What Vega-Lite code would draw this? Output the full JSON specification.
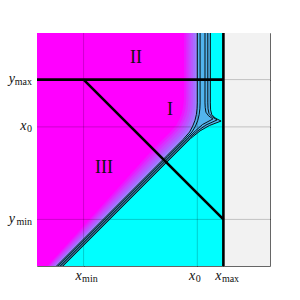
{
  "$schema": "https://vega.github.io/schema/vega-lite/v6.json",
  "width": 233,
  "height": 233,
  "autosize": "none",
  "padding": {"left": 37, "top": 33, "right": 30, "bottom": 34},
  "background": "white",
  "config": {
    "view": {"stroke": "#666", "strokeWidth": 1},
    "axis": {
      "tickColor": "#222",
      "tickSize": 6,
      "offset": -6,
      "grid": false,
      "domain": false,
      "labels": false,
      "title": null,
      "zindex": 1
    }
  },
  "resolve": {"scale": {"color": "independent"}, "axis": {"x": "independent", "y": "independent"}},
  "datasets": {
    "rg": [
      {"r": "cyan", "x": 0, "x2": 0.8, "y": 0, "y2": 1},
      {"r": "grey", "x": 0.8, "x2": 1, "y": 0, "y2": 1}
    ],
    "gd": [
      {"x": 0.2, "y": 0, "x2": 0.2, "y2": 1},
      {"x": 0.688, "y": 0, "x2": 0.688, "y2": 1},
      {"x": 0.8, "y": 0, "x2": 0.8, "y2": 1},
      {"x": 0, "y": 0.2, "x2": 1, "y2": 0.2},
      {"x": 0, "y": 0.597, "x2": 1, "y2": 0.597},
      {"x": 0, "y": 0.8, "x2": 1, "y2": 0.8}
    ],
    "lv": [
      {"k": "L0", "x": 0.112, "y": 0}, {"k": "L0", "x": 0.55, "y": 0.438}, {"k": "L0", "x": 0.66, "y": 0.548}, {"k": "L0", "x": 0.70, "y": 0.58}, {"k": "L0", "x": 0.74, "y": 0.603}, {"k": "L0", "x": 0.79, "y": 0.622}, {"k": "L0", "x": 0.765, "y": 0.635}, {"k": "L0", "x": 0.75, "y": 0.65}, {"k": "L0", "x": 0.745, "y": 0.67}, {"k": "L0", "x": 0.744, "y": 0.7}, {"k": "L0", "x": 0.744, "y": 1},
      {"k": "L1", "x": 0.084, "y": 0}, {"k": "L1", "x": 0.56, "y": 0.476}, {"k": "L1", "x": 0.627, "y": 0.543}, {"k": "L1", "x": 0.655, "y": 0.575}, {"k": "L1", "x": 0.668, "y": 0.6}, {"k": "L1", "x": 0.678, "y": 0.625}, {"k": "L1", "x": 0.684, "y": 0.65}, {"k": "L1", "x": 0.687, "y": 0.675}, {"k": "L1", "x": 0.688, "y": 0.7}, {"k": "L1", "x": 0.688, "y": 1},
      {"k": "L2", "x": 0.0775, "y": 0}, {"k": "L2", "x": 0.5505, "y": 0.481}, {"k": "L2", "x": 0.6175, "y": 0.548}, {"k": "L2", "x": 0.6455, "y": 0.58}, {"k": "L2", "x": 0.6585, "y": 0.605}, {"k": "L2", "x": 0.6685, "y": 0.63}, {"k": "L2", "x": 0.6745, "y": 0.655}, {"k": "L2", "x": 0.6775, "y": 0.68}, {"k": "L2", "x": 0.6785, "y": 0.705}, {"k": "L2", "x": 0.6785, "y": 1},
      {"k": "L3", "x": 0.071, "y": 0}, {"k": "L3", "x": 0.541, "y": 0.486}, {"k": "L3", "x": 0.608, "y": 0.553}, {"k": "L3", "x": 0.636, "y": 0.585}, {"k": "L3", "x": 0.649, "y": 0.61}, {"k": "L3", "x": 0.659, "y": 0.635}, {"k": "L3", "x": 0.665, "y": 0.66}, {"k": "L3", "x": 0.668, "y": 0.685}, {"k": "L3", "x": 0.669, "y": 0.71}, {"k": "L3", "x": 0.669, "y": 1},
      {"k": "L4", "x": 0.0645, "y": 0}, {"k": "L4", "x": 0.5315, "y": 0.491}, {"k": "L4", "x": 0.5985, "y": 0.558}, {"k": "L4", "x": 0.6265, "y": 0.59}, {"k": "L4", "x": 0.6395, "y": 0.615}, {"k": "L4", "x": 0.6495, "y": 0.64}, {"k": "L4", "x": 0.6555, "y": 0.665}, {"k": "L4", "x": 0.6585, "y": 0.69}, {"k": "L4", "x": 0.6595, "y": 0.715}, {"k": "L4", "x": 0.6595, "y": 1},
      {"k": "L5", "x": 0.058, "y": 0}, {"k": "L5", "x": 0.522, "y": 0.496}, {"k": "L5", "x": 0.589, "y": 0.563}, {"k": "L5", "x": 0.617, "y": 0.595}, {"k": "L5", "x": 0.63, "y": 0.62}, {"k": "L5", "x": 0.64, "y": 0.645}, {"k": "L5", "x": 0.646, "y": 0.67}, {"k": "L5", "x": 0.649, "y": 0.695}, {"k": "L5", "x": 0.65, "y": 0.72}, {"k": "L5", "x": 0.65, "y": 1},
      {"k": "L6", "x": 0.0515, "y": 0}, {"k": "L6", "x": 0.5125, "y": 0.501}, {"k": "L6", "x": 0.5795, "y": 0.568}, {"k": "L6", "x": 0.6075, "y": 0.6}, {"k": "L6", "x": 0.6205, "y": 0.625}, {"k": "L6", "x": 0.6305, "y": 0.65}, {"k": "L6", "x": 0.6365, "y": 0.675}, {"k": "L6", "x": 0.6395, "y": 0.7}, {"k": "L6", "x": 0.6405, "y": 0.725}, {"k": "L6", "x": 0.6405, "y": 1},
      {"k": "L7", "x": 0.045, "y": 0}, {"k": "L7", "x": 0.503, "y": 0.506}, {"k": "L7", "x": 0.57, "y": 0.573}, {"k": "L7", "x": 0.598, "y": 0.605}, {"k": "L7", "x": 0.611, "y": 0.63}, {"k": "L7", "x": 0.621, "y": 0.655}, {"k": "L7", "x": 0.627, "y": 0.68}, {"k": "L7", "x": 0.63, "y": 0.705}, {"k": "L7", "x": 0.631, "y": 0.73}, {"k": "L7", "x": 0.631, "y": 1}
    ],
    "ct": [
      {"c": 1, "i": 0, "x": 0.084, "y": 0}, {"c": 1, "i": 1, "x": 0.56, "y": 0.476}, {"c": 1, "i": 2, "x": 0.627, "y": 0.543}, {"c": 1, "i": 3, "x": 0.655, "y": 0.575}, {"c": 1, "i": 4, "x": 0.668, "y": 0.6}, {"c": 1, "i": 5, "x": 0.678, "y": 0.625}, {"c": 1, "i": 6, "x": 0.684, "y": 0.65}, {"c": 1, "i": 7, "x": 0.687, "y": 0.675}, {"c": 1, "i": 8, "x": 0.688, "y": 0.7}, {"c": 1, "i": 9, "x": 0.688, "y": 1},
      {"c": 2, "i": 0, "x": 0.091, "y": 0}, {"c": 2, "i": 1, "x": 0.56, "y": 0.469}, {"c": 2, "i": 2, "x": 0.635, "y": 0.544}, {"c": 2, "i": 3, "x": 0.665, "y": 0.575}, {"c": 2, "i": 4, "x": 0.68, "y": 0.6}, {"c": 2, "i": 5, "x": 0.69, "y": 0.625}, {"c": 2, "i": 6, "x": 0.696, "y": 0.65}, {"c": 2, "i": 7, "x": 0.699, "y": 0.675}, {"c": 2, "i": 8, "x": 0.70, "y": 0.7}, {"c": 2, "i": 9, "x": 0.70, "y": 1},
      {"c": 3, "i": 0, "x": 0.098, "y": 0}, {"c": 3, "i": 1, "x": 0.55, "y": 0.452}, {"c": 3, "i": 2, "x": 0.648, "y": 0.55}, {"c": 3, "i": 3, "x": 0.68, "y": 0.58}, {"c": 3, "i": 4, "x": 0.71, "y": 0.607}, {"c": 3, "i": 5, "x": 0.755, "y": 0.631}, {"c": 3, "i": 6, "x": 0.736, "y": 0.645}, {"c": 3, "i": 7, "x": 0.725, "y": 0.66}, {"c": 3, "i": 8, "x": 0.722, "y": 0.68}, {"c": 3, "i": 9, "x": 0.721, "y": 0.7}, {"c": 3, "i": 10, "x": 0.721, "y": 1},
      {"c": 4, "i": 0, "x": 0.105, "y": 0}, {"c": 4, "i": 1, "x": 0.55, "y": 0.445}, {"c": 4, "i": 2, "x": 0.655, "y": 0.55}, {"c": 4, "i": 3, "x": 0.69, "y": 0.58}, {"c": 4, "i": 4, "x": 0.725, "y": 0.605}, {"c": 4, "i": 5, "x": 0.773, "y": 0.627}, {"c": 4, "i": 6, "x": 0.752, "y": 0.64}, {"c": 4, "i": 7, "x": 0.738, "y": 0.655}, {"c": 4, "i": 8, "x": 0.734, "y": 0.675}, {"c": 4, "i": 9, "x": 0.733, "y": 0.7}, {"c": 4, "i": 10, "x": 0.733, "y": 1},
      {"c": 5, "i": 0, "x": 0.112, "y": 0}, {"c": 5, "i": 1, "x": 0.55, "y": 0.438}, {"c": 5, "i": 2, "x": 0.66, "y": 0.548}, {"c": 5, "i": 3, "x": 0.70, "y": 0.58}, {"c": 5, "i": 4, "x": 0.74, "y": 0.603}, {"c": 5, "i": 5, "x": 0.79, "y": 0.622}, {"c": 5, "i": 6, "x": 0.765, "y": 0.635}, {"c": 5, "i": 7, "x": 0.75, "y": 0.65}, {"c": 5, "i": 8, "x": 0.745, "y": 0.67}, {"c": 5, "i": 9, "x": 0.744, "y": 0.7}, {"c": 5, "i": 10, "x": 0.744, "y": 1}
    ],
    "sg": [
      {"x": 0, "y": 0.8, "x2": 0.8, "y2": 0.8},
      {"x": 0.2, "y": 0.8, "x2": 0.8, "y2": 0.2},
      {"x": 0.8, "y": 0, "x2": 0.8, "y2": 1}
    ],
    "lb": [
      {"t": "II", "x": 0.425, "y": 0.893},
      {"t": "I", "x": 0.571, "y": 0.67},
      {"t": "III", "x": 0.288, "y": 0.42}
    ],
    "tk": [
      {"ax": "y", "w": "long", "x": 0, "y": 0.8, "m": "y", "s": "max"},
      {"ax": "y", "w": "short", "x": 0, "y": 0.597, "m": "x", "s": "0"},
      {"ax": "y", "w": "long", "x": 0, "y": 0.2, "m": "y", "s": "min"},
      {"ax": "x", "w": "long", "x": 0.2, "y": 0, "m": "x", "s": "min"},
      {"ax": "x", "w": "short", "x": 0.688, "y": 0, "m": "x", "s": "0"},
      {"ax": "x", "w": "long", "x": 0.8, "y": 0, "m": "x", "s": "max"}
    ]
  },
  "layer": [
    {
      "data": {"name": "rg"},
      "mark": {"type": "rect"},
      "encoding": {
        "x": {"field": "x", "type": "quantitative", "scale": {"domain": [0, 1], "nice": false, "zero": false},
          "axis": {"orient": "bottom", "values": [0.2, 0.688, 0.8]}},
        "y": {"field": "y", "type": "quantitative", "scale": {"domain": [0, 1], "nice": false, "zero": false},
          "axis": {"orient": "left", "values": [0.2, 0.597, 0.8]}},
        "x2": {"field": "x2"},
        "y2": {"field": "y2"},
        "color": {"field": "r", "type": "nominal", "legend": null,
          "scale": {"domain": ["cyan", "grey"], "range": ["#00ffff", "#f2f2f2"]}}
      }
    },
    {
      "data": {"name": "lv"},
      "mark": {"type": "area", "orient": "horizontal"},
      "encoding": {
        "x": {"field": "x", "type": "quantitative", "stack": null, "axis": null, "scale": {"domain": [0, 1], "nice": false, "zero": false}},
        "x2": {"datum": 0},
        "y": {"field": "y", "type": "quantitative", "axis": null, "scale": {"domain": [0, 1], "nice": false, "zero": false}},
        "color": {"field": "k", "type": "nominal", "legend": null,
          "scale": {"domain": ["L0", "L1", "L2", "L3", "L4", "L5", "L6", "L7"],
            "range": ["#52b4ee", "#9a84fb", "#a96bff", "#b957ff", "#c944ff", "#d92fff", "#ec17ff", "#ff00ff"]}}
      }
    },
    {
      "data": {"name": "gd"},
      "mark": {"type": "rule", "color": "#000", "opacity": 0.2, "strokeWidth": 1},
      "encoding": {
        "x": {"field": "x", "type": "quantitative", "axis": null, "scale": {"domain": [0, 1], "nice": false, "zero": false}},
        "y": {"field": "y", "type": "quantitative", "axis": null, "scale": {"domain": [0, 1], "nice": false, "zero": false}},
        "x2": {"field": "x2"},
        "y2": {"field": "y2"}
      }
    },
    {
      "data": {"name": "ct"},
      "mark": {"type": "line", "color": "#000", "strokeWidth": 0.9},
      "encoding": {
        "x": {"field": "x", "type": "quantitative", "axis": null, "scale": {"domain": [0, 1], "nice": false, "zero": false}},
        "y": {"field": "y", "type": "quantitative", "axis": null, "scale": {"domain": [0, 1], "nice": false, "zero": false}},
        "detail": {"field": "c", "type": "nominal"},
        "order": {"field": "i", "type": "quantitative"}
      }
    },
    {
      "data": {"name": "sg"},
      "mark": {"type": "rule", "color": "#000", "strokeWidth": 2.6},
      "encoding": {
        "x": {"field": "x", "type": "quantitative", "axis": null, "scale": {"domain": [0, 1], "nice": false, "zero": false}},
        "y": {"field": "y", "type": "quantitative", "axis": null, "scale": {"domain": [0, 1], "nice": false, "zero": false}},
        "x2": {"field": "x2"},
        "y2": {"field": "y2"}
      }
    },
    {
      "data": {"name": "lb"},
      "mark": {"type": "text", "font": "Liberation Serif", "fontSize": 18, "color": "#111"},
      "encoding": {
        "x": {"field": "x", "type": "quantitative", "scale": {"domain": [0, 1], "nice": false, "zero": false},
          "axis": {"orient": "top", "values": [0.2, 0.688, 0.8]}},
        "y": {"field": "y", "type": "quantitative", "scale": {"domain": [0, 1], "nice": false, "zero": false},
          "axis": {"orient": "right", "values": [0.2, 0.597, 0.8]}},
        "text": {"field": "t", "type": "nominal"}
      }
    },
    {
      "data": {"name": "tk"},
      "transform": [{"filter": "datum.ax == 'y' && datum.w == 'long'"}],
      "mark": {"type": "text", "font": "Liberation Serif", "fontStyle": "italic", "fontSize": 14, "color": "#111", "align": "right", "baseline": "alphabetic", "dx": -22, "dy": 3.5},
      "encoding": {
        "x": {"field": "x", "type": "quantitative", "axis": null, "scale": {"domain": [0, 1], "nice": false, "zero": false}},
        "y": {"field": "y", "type": "quantitative", "axis": null, "scale": {"domain": [0, 1], "nice": false, "zero": false}},
        "text": {"field": "m", "type": "nominal"}
      }
    },
    {
      "data": {"name": "tk"},
      "transform": [{"filter": "datum.ax == 'y' && datum.w == 'short'"}],
      "mark": {"type": "text", "font": "Liberation Serif", "fontStyle": "italic", "fontSize": 14, "color": "#111", "align": "right", "baseline": "alphabetic", "dx": -10.5, "dy": 3.5},
      "encoding": {
        "x": {"field": "x", "type": "quantitative", "axis": null, "scale": {"domain": [0, 1], "nice": false, "zero": false}},
        "y": {"field": "y", "type": "quantitative", "axis": null, "scale": {"domain": [0, 1], "nice": false, "zero": false}},
        "text": {"field": "m", "type": "nominal"}
      }
    },
    {
      "data": {"name": "tk"},
      "transform": [{"filter": "datum.ax == 'y'"}],
      "mark": {"type": "text", "font": "Liberation Serif", "fontSize": 10, "color": "#111", "align": "right", "baseline": "alphabetic", "dx": -5, "dy": 5.5},
      "encoding": {
        "x": {"field": "x", "type": "quantitative", "axis": null, "scale": {"domain": [0, 1], "nice": false, "zero": false}},
        "y": {"field": "y", "type": "quantitative", "axis": null, "scale": {"domain": [0, 1], "nice": false, "zero": false}},
        "text": {"field": "s", "type": "nominal"}
      }
    },
    {
      "data": {"name": "tk"},
      "transform": [{"filter": "datum.ax == 'x'"}],
      "mark": {"type": "text", "font": "Liberation Serif", "fontStyle": "italic", "fontSize": 14, "color": "#111", "align": "right", "baseline": "alphabetic", "dx": -2, "dy": 13.5},
      "encoding": {
        "x": {"field": "x", "type": "quantitative", "axis": null, "scale": {"domain": [0, 1], "nice": false, "zero": false}},
        "y": {"field": "y", "type": "quantitative", "axis": null, "scale": {"domain": [0, 1], "nice": false, "zero": false}},
        "text": {"field": "m", "type": "nominal"}
      }
    },
    {
      "data": {"name": "tk"},
      "transform": [{"filter": "datum.ax == 'x'"}],
      "mark": {"type": "text", "font": "Liberation Serif", "fontSize": 10, "color": "#111", "align": "left", "baseline": "alphabetic", "dx": -1.5, "dy": 16},
      "encoding": {
        "x": {"field": "x", "type": "quantitative", "axis": null, "scale": {"domain": [0, 1], "nice": false, "zero": false}},
        "y": {"field": "y", "type": "quantitative", "axis": null, "scale": {"domain": [0, 1], "nice": false, "zero": false}},
        "text": {"field": "s", "type": "nominal"}
      }
    }
  ]
}
